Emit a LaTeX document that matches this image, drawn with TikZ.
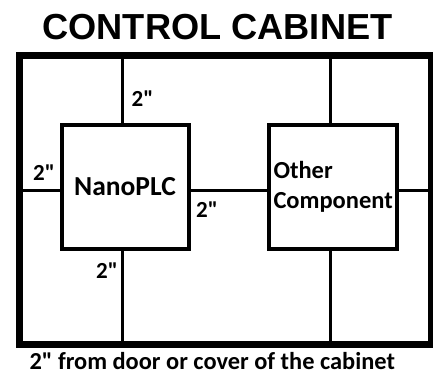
\documentclass[tikz,border=0pt]{standalone}
\usepackage{fontspec}
\setmainfont{Carlito}
\newfontfamily\headfont{Liberation Sans}
\usepackage{tikz}
\newcommand{\inch}{\textquotedbl}

\begin{document}
\begin{tikzpicture}[x=1pt,y=-1pt,line cap=rect,line join=miter,
    wall/.style={draw,line width=7pt,inner sep=0pt,minimum width=411.5pt,minimum height=288.5pt},
    part/.style={draw,line width=4pt,inner sep=0pt,minimum height=123pt},
    wire/.style={line width=3pt},
    gap/.style={font=\bfseries\fontsize{23}{23}\selectfont,inner sep=0pt,anchor=base}]
  \useasboundingbox (0,0) rectangle (433,374);
  \fill[white] (0,0) rectangle (433,374);
  \node[wall] (cab) at (225.25,199.75) {};
  \node[part,minimum width=127pt] (plc) at (125.5,187) {};
  \node[part,minimum width=128pt] (oth) at (333,187) {};
  \coordinate (hl) at (19.5,190);
  \coordinate (hr) at (431,190);
  \coordinate (vtl) at (122,55.5);
  \coordinate (vbl) at (122,344);
  \coordinate (vtr) at (330,55.5);
  \coordinate (vbr) at (330,344);
  \draw[wire] (hl) -- (hl -| plc.west);
  \draw[wire] (plc.east |- hl) -- (oth.west |- hl);
  \draw[wire] (oth.east |- hr) -- (hr);
  \draw[wire] (vtl) -- (vtl |- plc.north);
  \draw[wire] (vbl |- plc.south) -- (vbl);
  \draw[wire] (vtr) -- (vtr |- oth.north);
  \draw[wire] (vbr |- oth.south) -- (vbr);
  \node[font=\bfseries\fontsize{27.5}{30}\selectfont,inner sep=0pt,anchor=base] (plctext) at (125,195.5) {NanoPLC};
  \node[font=\bfseries\fontsize{24.5}{30}\selectfont,inner sep=0pt,align=left,anchor=base west] (othtext) at (273.3,208.3) {Other\\Component};
  \node[gap] (gtop) at (142.5,107) {2\inch};
  \node[gap] (gleft) at (44,180) {2\inch};
  \node[gap] (gmid) at (207,217.5) {2\inch};
  \node[gap] (gbot) at (107,278) {2\inch};
  \node[font=\headfont\bfseries\fontsize{36.2}{36}\selectfont,inner sep=0pt,anchor=base] (title) at (217.5,40) {CONTROL CABINET};
  \node[font=\bfseries\fontsize{24.4}{24}\selectfont,inner sep=0pt,anchor=base west] (note) at (29.3,369.3) {2\inch{} from door or cover of the cabinet};
\end{tikzpicture}
\end{document}
